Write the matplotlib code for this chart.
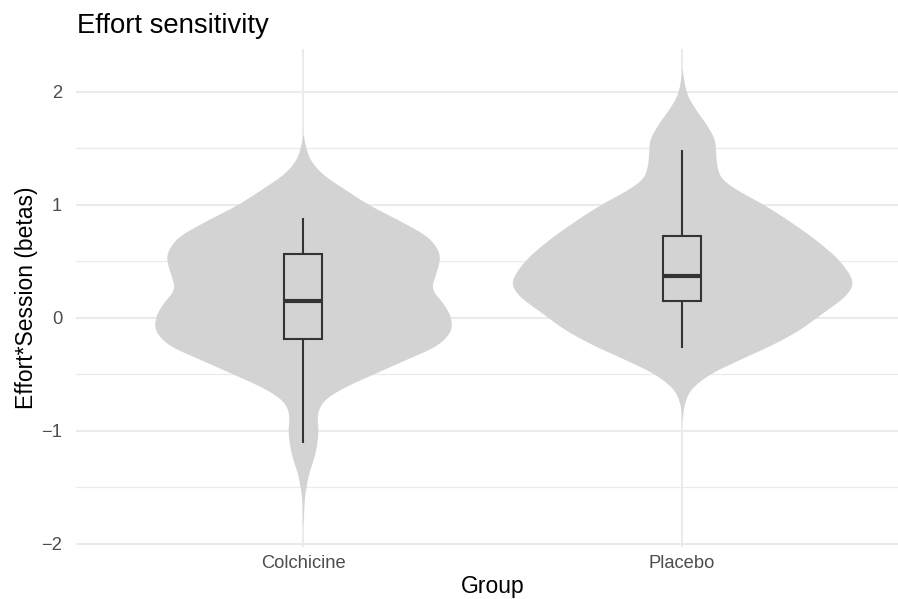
import numpy as np
import matplotlib
matplotlib.use("Agg")
import matplotlib.pyplot as plt

plt.rcParams['font.family'] = ['Liberation Sans', 'DejaVu Sans']

groups = ["Colchicine", "Placebo"]

# Density profiles (value, relative density) for each group
colchicine_y = [1.62, 1.50, 1.42, 1.30, 1.13, 1.00, 0.83, 0.69, 0.54, 0.39, 0.27, 0.12,
                0.00, -0.08, -0.22, -0.37, -0.50, -0.64, -0.75, -0.87, -1.00, -1.10,
                -1.23, -1.40, -1.50, -1.58, -1.85]
colchicine_d = [0, 3, 6, 16, 43, 66, 103, 128, 137, 133, 129, 141,
                148, 149, 138, 103, 70, 36, 19, 14, 15, 14,
                11, 5, 3, 1.5, 0]

placebo_y = [2.20, 2.00, 1.85, 1.70, 1.55, 1.40, 1.25, 1.16, 1.00, 0.81, 0.66, 0.51,
             0.36, 0.31, 0.22, 0.07, 0.00, -0.08, -0.23, -0.38, -0.52, -0.67, -0.82, -0.92]
placebo_d = [0, 4, 13, 25, 33, 34, 38, 50, 82, 115, 138, 157,
             169, 171, 166, 145, 134, 122, 92, 55, 24, 6, 1, 0]

# Box-plot statistics: lower whisker, Q1, median, Q3, upper whisker
colchicine_box = [-1.109, -0.188, 0.147, 0.568, 0.883]
placebo_box = [-0.272, 0.148, 0.371, 0.726, 1.484]

y_ticks = [-2, -1, 0, 1, 2]
y_tick_labels = ["\u22122", "\u22121", "0", "1", "2"]

W, H = 898, 599
fig = plt.figure(figsize=(W / 150, H / 150), dpi=150)
fig.patch.set_facecolor("white")
ax = fig.add_axes([75.6 / W, 1 - 547 / H, (909.6 - 75.6) / W, (547 - 48.8) / H])
ax.set_xlim(0.4, 2.6)
ax.set_ylim(-2.03, 2.38)

# grid
for v in y_ticks:
    ax.axhline(v, color="#EBEBEB", lw=1.0, zorder=0)
for v in [-1.5, -0.5, 0.5, 1.5]:
    ax.axhline(v, color="#EBEBEB", lw=0.6, zorder=0)
for xpos in [1, 2]:
    ax.axvline(xpos, color="#EBEBEB", lw=1.0, zorder=0)

profiles = [(colchicine_y, colchicine_d), (placebo_y, placebo_d)]
dmax = max(max(colchicine_d), max(placebo_d))


def pchip(xk, yk, xq):
    """Monotone piecewise cubic Hermite interpolation."""
    h = np.diff(xk)
    delta = np.diff(yk) / h
    n = len(xk)
    m = np.zeros(n)
    for k in range(1, n - 1):
        if delta[k - 1] * delta[k] > 0:
            w1 = 2 * h[k] + h[k - 1]
            w2 = h[k] + 2 * h[k - 1]
            m[k] = (w1 + w2) / (w1 / delta[k - 1] + w2 / delta[k])
    m[0] = delta[0]
    m[-1] = delta[-1]
    idx = np.clip(np.searchsorted(xk, xq) - 1, 0, n - 2)
    t = (xq - xk[idx]) / h[idx]
    h00 = 2 * t**3 - 3 * t**2 + 1
    h10 = t**3 - 2 * t**2 + t
    h01 = -2 * t**3 + 3 * t**2
    h11 = t**3 - t**2
    return (h00 * yk[idx] + h10 * h[idx] * m[idx]
            + h01 * yk[idx + 1] + h11 * h[idx] * m[idx + 1])


def smooth_outline(ys, ds):
    ys = np.asarray(ys, dtype=float)[::-1]
    ds = np.asarray(ds, dtype=float)[::-1]
    grid = np.linspace(ys[0], ys[-1], 800)
    w = pchip(ys, ds, grid)
    k = np.exp(-0.5 * (np.arange(-24, 25) / 8.0) ** 2)
    k /= k.sum()
    padded = np.pad(w, 24, mode="edge")
    w = np.convolve(padded, k, mode="valid")
    w[0] = 0
    w[-1] = 0
    return grid, np.clip(w, 0, None)


for i, (ys, ds) in enumerate(profiles):
    xc = i + 1
    gy, gw = smooth_outline(ys, ds)
    half = 0.45 * gw / dmax
    ax.fill_betweenx(gy, xc - half, xc + half, color="#D3D3D3", lw=0, zorder=2)

boxes = [colchicine_box, placebo_box]
bw = 0.05
for i, (lo, q1, med, q3, hi) in enumerate(boxes):
    xc = i + 1
    ec = "#333333"
    ax.plot([xc, xc], [q3, hi], color=ec, lw=1.0, zorder=3, solid_capstyle="butt")
    ax.plot([xc, xc], [lo, q1], color=ec, lw=1.0, zorder=3, solid_capstyle="butt")
    ax.plot([xc - bw, xc + bw, xc + bw, xc - bw, xc - bw], [q1, q1, q3, q3, q1],
            color=ec, lw=1.0, zorder=3, solid_joinstyle="miter")
    ax.plot([xc - bw, xc + bw], [med, med], color=ec, lw=2.0, zorder=4,
            solid_capstyle="butt")

for s in ax.spines.values():
    s.set_visible(False)

ax.set_yticks(y_ticks)
ax.set_yticklabels(y_tick_labels)
ax.set_xticks([1, 2])
ax.set_xticklabels(groups)
ax.tick_params(axis="y", length=0, pad=6.5, labelsize=8.8, labelcolor="#4D4D4D")
ax.tick_params(axis="x", length=0, pad=4, labelsize=8.8, labelcolor="#4D4D4D")

fig.text(77 / W, 1 - 33 / H, "Effort sensitivity", fontsize=13.2, color="black",
         ha="left", va="baseline")
ax.set_xlabel("Group", fontsize=11, color="black", labelpad=1.5)
ax.set_ylabel("Effort*Session (betas)", fontsize=11, color="black", labelpad=1.5)

fig.savefig("out.png", dpi=150, facecolor="white")
